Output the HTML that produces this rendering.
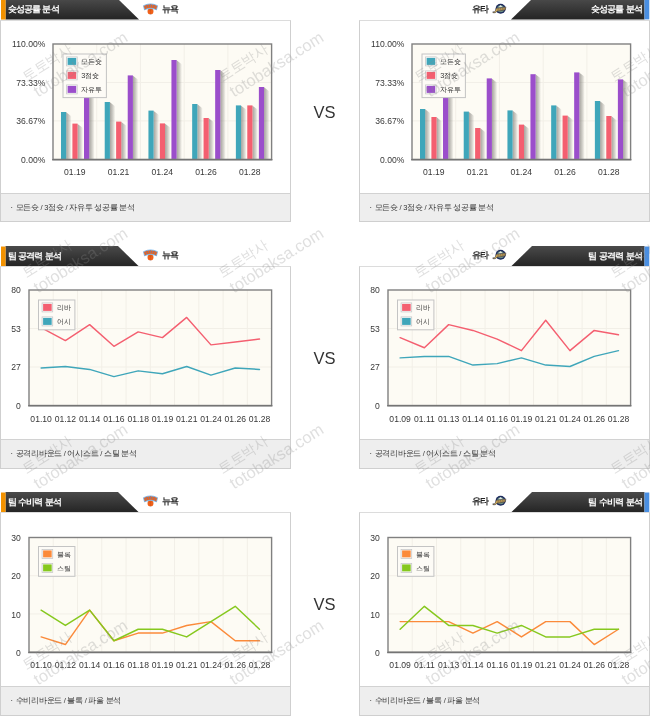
<!DOCTYPE html>
<html lang="ko"><head><meta charset="utf-8"><title>팀 분석</title>
<style>
html,body{margin:0;padding:0;background:#fff;}
body{width:650px;height:716px;overflow:hidden;position:relative;font-family:"Liberation Sans", sans-serif;color:#333;}
#page{position:absolute;left:0;top:0;width:650px;height:716px;overflow:hidden;background:#fff;filter:blur(0.4px);}
.abs{position:absolute;white-space:nowrap;}
.tab{position:absolute;height:20.6px;width:139px;}
.title{position:absolute;top:0;height:19px;line-height:20.3px;font-size:9px;letter-spacing:-0.95px;word-spacing:1.2px;font-weight:bold;color:#fff;white-space:nowrap;}
.team{position:absolute;height:18px;line-height:18px;font-size:9px;letter-spacing:-1px;font-weight:bold;color:#222;white-space:nowrap;}
.box{position:absolute;width:290px;border:1px solid #cfcfcf;border-top-color:#dcdcdc;background:#fff;box-sizing:border-box;}
.foot{position:absolute;left:0;right:0;bottom:0;height:28px;background:#eeeeee;border-top:1px solid #d2d2d2;box-sizing:border-box;}
.foot span{position:absolute;left:14.6px;top:0;line-height:27.4px;font-size:7.55px;letter-spacing:-0.27px;color:#333;white-space:nowrap;}
.foot i{position:absolute;left:9.6px;top:0;line-height:27.4px;font-size:7.55px;font-style:normal;color:#333;}
.vs{position:absolute;left:304px;width:41px;text-align:center;font-size:16.5px;line-height:20px;color:#333;}
svg{position:absolute;left:0;top:0;overflow:visible;}
svg text{font-family:"Liberation Sans", sans-serif;}
.ax{font-size:8.6px;fill:#383838;}
.lg{font-size:7.4px;fill:#333;}
#wm{position:absolute;left:0;top:0;overflow:hidden;}
</style></head><body><div id="page">
<div class="tab" style="left:0;top:-0.7px"><svg width="139" height="20.6" viewBox="0 0 139 20" preserveAspectRatio="none"><defs><linearGradient id="gL0" x1="0" y1="0" x2="0" y2="1"><stop offset="0" stop-color="#4a4a4a"/><stop offset="1" stop-color="#242424"/></linearGradient></defs><path d="M5.5 0 L118 0 L139 20 L5.5 20 Z" fill="url(#gL0)"/><rect x="1" y="0.5" width="4.6" height="19.5" fill="#f39200"/></svg><div class="title" style="left:7.5px">슛성공률 분석</div></div>
<svg class="logo" style="left:142.5px;top:3px" width="15" height="13" viewBox="0 0 15 13"><path d="M1.6 3 L13.4 3 L7.5 12.2 Z" fill="#c4e2f8"/><circle cx="7.5" cy="8.4" r="2.95" fill="#f0611a"/><path d="M5.6 6.3 Q7.5 8.4 9.4 6.3 M7.5 5.6 L7.5 11.2" stroke="#c24a10" stroke-width="0.35" fill="none"/><path d="M0.5 2.7 Q7.5 -0.9 14.5 2.7 L13.5 6.9 Q7.5 3.3 1.5 6.9 Z" fill="#e9621f" stroke="#6bb3ef" stroke-width="0.8" stroke-linejoin="round"/><path d="M2.9 2.3 L3.6 5.3 M5.3 1.5 L5.7 4.2 M7.5 1.2 L7.5 3.8 M9.7 1.5 L9.3 4.2 M12.1 2.3 L11.4 5.3" stroke="#4a86d2" stroke-width="0.5" fill="none"/></svg>
<div class="team" style="left:162px;top:0px">뉴욕</div>
<div class="box" style="left:0px;top:20px;height:201.5px;width:291px">
<svg style="left:-1px;top:-1px" width="291" height="201.5" viewBox="0 0 291 201.5">
<rect x="53" y="24" width="218.6" height="115.4" fill="#fdfbf4"/><line x1="96.72" y1="24" x2="96.72" y2="139.4" stroke="#f2efe7" stroke-width="1"/><line x1="140.44" y1="24" x2="140.44" y2="139.4" stroke="#f2efe7" stroke-width="1"/><line x1="184.16" y1="24" x2="184.16" y2="139.4" stroke="#f2efe7" stroke-width="1"/><line x1="227.88" y1="24" x2="227.88" y2="139.4" stroke="#f2efe7" stroke-width="1"/><line x1="53" y1="62.4667" x2="271.6" y2="62.4667" stroke="#f2efe7" stroke-width="1"/><line x1="53" y1="100.933" x2="271.6" y2="100.933" stroke="#f2efe7" stroke-width="1"/>
<defs><linearGradient id="shL" x1="0" y1="0" x2="1" y2="0"><stop offset="0" stop-color="#55534e" stop-opacity="0.52"/><stop offset="0.55" stop-color="#55534e" stop-opacity="0.26"/><stop offset="1" stop-color="#55534e" stop-opacity="0"/></linearGradient></defs>
<path d="M66.2 92.3 L71.6 96.4 L71.6 139.4 L66.2 139.4 Z" fill="url(#shL)"/>
<rect x="61" y="92" width="5.2" height="47.4" fill="#3fa6ba"/>
<path d="M77.6 103.9 L83 108 L83 139.4 L77.6 139.4 Z" fill="url(#shL)"/>
<rect x="72.4" y="103.6" width="5.2" height="35.8" fill="#f45f70"/>
<path d="M89.2 62.3 L94.6 66.4 L94.6 139.4 L89.2 139.4 Z" fill="url(#shL)"/>
<rect x="84" y="62" width="5.2" height="77.4" fill="#9b4ecb"/>
<path d="M109.92 82.3 L115.32 86.4 L115.32 139.4 L109.92 139.4 Z" fill="url(#shL)"/>
<rect x="104.72" y="82" width="5.2" height="57.4" fill="#3fa6ba"/>
<path d="M121.32 101.9 L126.72 106 L126.72 139.4 L121.32 139.4 Z" fill="url(#shL)"/>
<rect x="116.12" y="101.6" width="5.2" height="37.8" fill="#f45f70"/>
<path d="M132.92 55.7 L138.32 59.8 L138.32 139.4 L132.92 139.4 Z" fill="url(#shL)"/>
<rect x="127.72" y="55.4" width="5.2" height="84" fill="#9b4ecb"/>
<path d="M153.64 90.9 L159.04 95 L159.04 139.4 L153.64 139.4 Z" fill="url(#shL)"/>
<rect x="148.44" y="90.6" width="5.2" height="48.8" fill="#3fa6ba"/>
<path d="M165.04 103.7 L170.44 107.8 L170.44 139.4 L165.04 139.4 Z" fill="url(#shL)"/>
<rect x="159.84" y="103.4" width="5.2" height="36" fill="#f45f70"/>
<path d="M176.64 40.3 L182.04 44.4 L182.04 139.4 L176.64 139.4 Z" fill="url(#shL)"/>
<rect x="171.44" y="40" width="5.2" height="99.4" fill="#9b4ecb"/>
<path d="M197.36 84.3 L202.76 88.4 L202.76 139.4 L197.36 139.4 Z" fill="url(#shL)"/>
<rect x="192.16" y="84" width="5.2" height="55.4" fill="#3fa6ba"/>
<path d="M208.76 98.3 L214.16 102.4 L214.16 139.4 L208.76 139.4 Z" fill="url(#shL)"/>
<rect x="203.56" y="98" width="5.2" height="41.4" fill="#f45f70"/>
<path d="M220.36 50.3 L225.76 54.4 L225.76 139.4 L220.36 139.4 Z" fill="url(#shL)"/>
<rect x="215.16" y="50" width="5.2" height="89.4" fill="#9b4ecb"/>
<path d="M241.08 85.7 L246.48 89.8 L246.48 139.4 L241.08 139.4 Z" fill="url(#shL)"/>
<rect x="235.88" y="85.4" width="5.2" height="54" fill="#3fa6ba"/>
<path d="M252.48 85.7 L257.88 89.8 L257.88 139.4 L252.48 139.4 Z" fill="url(#shL)"/>
<rect x="247.28" y="85.4" width="5.2" height="54" fill="#f45f70"/>
<path d="M264.08 67.3 L269.48 71.4 L269.48 139.4 L264.08 139.4 Z" fill="url(#shL)"/>
<rect x="258.88" y="67" width="5.2" height="72.4" fill="#9b4ecb"/>
<rect x="53" y="24" width="218.6" height="115.4" fill="none" stroke="#808080" stroke-width="1.4"/><line x1="52.2" y1="139.7" x2="272.4" y2="139.7" stroke="#747474" stroke-width="1.6"/>
<rect x="63" y="34" width="43.4" height="43.6" fill="#fdfbf6" stroke="#c4c4c4" stroke-width="1"/><rect x="66.6" y="36.9" width="10.6" height="9" fill="#fff" stroke="#c8c8c8" stroke-width="0.8"/><rect x="67.6" y="37.9" width="8.6" height="7" fill="#3fa6ba"/><text class="lg" x="81.2" y="44.1">모든슛</text><rect x="66.6" y="50.9" width="10.6" height="9" fill="#fff" stroke="#c8c8c8" stroke-width="0.8"/><rect x="67.6" y="51.9" width="8.6" height="7" fill="#f45f70"/><text class="lg" x="81.2" y="58.1">3점슛</text><rect x="66.6" y="64.9" width="10.6" height="9" fill="#fff" stroke="#c8c8c8" stroke-width="0.8"/><rect x="67.6" y="65.9" width="8.6" height="7" fill="#9b4ecb"/><text class="lg" x="81.2" y="72.1">자유투</text>
<text class="ax" text-anchor="end" x="45.4" y="27.2">110.00%</text>
<text class="ax" text-anchor="end" x="45.4" y="65.6667">73.33%</text>
<text class="ax" text-anchor="end" x="45.4" y="104.133">36.67%</text>
<text class="ax" text-anchor="end" x="45.4" y="142.6">0.00%</text>
<text class="ax" text-anchor="middle" x="74.86" y="155.1">01.19</text>
<text class="ax" text-anchor="middle" x="118.58" y="155.1">01.21</text>
<text class="ax" text-anchor="middle" x="162.3" y="155.1">01.24</text>
<text class="ax" text-anchor="middle" x="206.02" y="155.1">01.26</text>
<text class="ax" text-anchor="middle" x="249.74" y="155.1">01.28</text>
</svg>
<div class="foot" style="height:27.9px"><i>·</i><span>모든슛 / 3점슛 / 자유투 성공률 분석</span></div>
</div>
<div class="tab" style="left:511px;top:-0.7px"><svg width="139" height="20.6" viewBox="0 0 139 20" preserveAspectRatio="none"><defs><linearGradient id="gR0" x1="0" y1="0" x2="0" y2="1"><stop offset="0" stop-color="#4a4a4a"/><stop offset="1" stop-color="#242424"/></linearGradient></defs><path d="M21 0 L133.5 0 L133.5 20 L0 20 Z" fill="url(#gR0)"/><rect x="133.5" y="0.5" width="4.8" height="19.3" fill="#4a8fe2"/></svg><div class="title" style="right:8px">슛성공률 분석</div></div>
<div class="team" style="left:472px;top:0px">유타</div>
<svg class="logo" style="left:492.3px;top:3px" width="15" height="12" viewBox="0 0 15 12"><circle cx="8.6" cy="5.8" r="5" fill="#1d2b5e"/><circle cx="8.6" cy="5.8" r="3.5" fill="#6f9486"/><path d="M8.6 1.9 L10.9 4.6 L6.3 4.6 Z" fill="#dfe8e2"/><path d="M0.9 8.7 Q2.3 9.3 3.3 7.9 L4.2 5.2 L13.9 3.9 L13.3 6.9 L5 8.3 Q3.4 10.5 0.9 9.7 Z" fill="#cfa94f" stroke="#2b2d45" stroke-width="0.55"/><path d="M6.3 5.3 L5.9 7.8 M8.3 5 L8 7.5 M10.3 4.7 L10 7.2 M12.2 4.5 L11.9 6.9" stroke="#3a3550" stroke-width="0.55" fill="none"/></svg>
<div class="box" style="left:359px;top:20px;height:201.5px;width:290.5px">
<svg style="left:-1px;top:-1px" width="291" height="201.5" viewBox="0 0 291 201.5">
<rect x="53" y="24" width="218.6" height="115.4" fill="#fdfbf4"/><line x1="96.72" y1="24" x2="96.72" y2="139.4" stroke="#f2efe7" stroke-width="1"/><line x1="140.44" y1="24" x2="140.44" y2="139.4" stroke="#f2efe7" stroke-width="1"/><line x1="184.16" y1="24" x2="184.16" y2="139.4" stroke="#f2efe7" stroke-width="1"/><line x1="227.88" y1="24" x2="227.88" y2="139.4" stroke="#f2efe7" stroke-width="1"/><line x1="53" y1="62.4667" x2="271.6" y2="62.4667" stroke="#f2efe7" stroke-width="1"/><line x1="53" y1="100.933" x2="271.6" y2="100.933" stroke="#f2efe7" stroke-width="1"/>
<defs><linearGradient id="shR" x1="0" y1="0" x2="1" y2="0"><stop offset="0" stop-color="#55534e" stop-opacity="0.52"/><stop offset="0.55" stop-color="#55534e" stop-opacity="0.26"/><stop offset="1" stop-color="#55534e" stop-opacity="0"/></linearGradient></defs>
<path d="M66.2 89.3 L71.6 93.4 L71.6 139.4 L66.2 139.4 Z" fill="url(#shR)"/>
<rect x="61" y="89" width="5.2" height="50.4" fill="#3fa6ba"/>
<path d="M77.6 97.3 L83 101.4 L83 139.4 L77.6 139.4 Z" fill="url(#shR)"/>
<rect x="72.4" y="97" width="5.2" height="42.4" fill="#f45f70"/>
<path d="M89.2 66.3 L94.6 70.4 L94.6 139.4 L89.2 139.4 Z" fill="url(#shR)"/>
<rect x="84" y="66" width="5.2" height="73.4" fill="#9b4ecb"/>
<path d="M109.92 91.9 L115.32 96 L115.32 139.4 L109.92 139.4 Z" fill="url(#shR)"/>
<rect x="104.72" y="91.6" width="5.2" height="47.8" fill="#3fa6ba"/>
<path d="M121.32 108.3 L126.72 112.4 L126.72 139.4 L121.32 139.4 Z" fill="url(#shR)"/>
<rect x="116.12" y="108" width="5.2" height="31.4" fill="#f45f70"/>
<path d="M132.92 58.7 L138.32 62.8 L138.32 139.4 L132.92 139.4 Z" fill="url(#shR)"/>
<rect x="127.72" y="58.4" width="5.2" height="81" fill="#9b4ecb"/>
<path d="M153.64 90.7 L159.04 94.8 L159.04 139.4 L153.64 139.4 Z" fill="url(#shR)"/>
<rect x="148.44" y="90.4" width="5.2" height="49" fill="#3fa6ba"/>
<path d="M165.04 104.9 L170.44 109 L170.44 139.4 L165.04 139.4 Z" fill="url(#shR)"/>
<rect x="159.84" y="104.6" width="5.2" height="34.8" fill="#f45f70"/>
<path d="M176.64 54.5 L182.04 58.6 L182.04 139.4 L176.64 139.4 Z" fill="url(#shR)"/>
<rect x="171.44" y="54.2" width="5.2" height="85.2" fill="#9b4ecb"/>
<path d="M197.36 85.7 L202.76 89.8 L202.76 139.4 L197.36 139.4 Z" fill="url(#shR)"/>
<rect x="192.16" y="85.4" width="5.2" height="54" fill="#3fa6ba"/>
<path d="M208.76 95.9 L214.16 100 L214.16 139.4 L208.76 139.4 Z" fill="url(#shR)"/>
<rect x="203.56" y="95.6" width="5.2" height="43.8" fill="#f45f70"/>
<path d="M220.36 52.7 L225.76 56.8 L225.76 139.4 L220.36 139.4 Z" fill="url(#shR)"/>
<rect x="215.16" y="52.4" width="5.2" height="87" fill="#9b4ecb"/>
<path d="M241.08 81.3 L246.48 85.4 L246.48 139.4 L241.08 139.4 Z" fill="url(#shR)"/>
<rect x="235.88" y="81" width="5.2" height="58.4" fill="#3fa6ba"/>
<path d="M252.48 96.3 L257.88 100.4 L257.88 139.4 L252.48 139.4 Z" fill="url(#shR)"/>
<rect x="247.28" y="96" width="5.2" height="43.4" fill="#f45f70"/>
<path d="M264.08 59.7 L269.48 63.8 L269.48 139.4 L264.08 139.4 Z" fill="url(#shR)"/>
<rect x="258.88" y="59.4" width="5.2" height="80" fill="#9b4ecb"/>
<rect x="53" y="24" width="218.6" height="115.4" fill="none" stroke="#808080" stroke-width="1.4"/><line x1="52.2" y1="139.7" x2="272.4" y2="139.7" stroke="#747474" stroke-width="1.6"/>
<rect x="63" y="34" width="43.4" height="43.6" fill="#fdfbf6" stroke="#c4c4c4" stroke-width="1"/><rect x="66.6" y="36.9" width="10.6" height="9" fill="#fff" stroke="#c8c8c8" stroke-width="0.8"/><rect x="67.6" y="37.9" width="8.6" height="7" fill="#3fa6ba"/><text class="lg" x="81.2" y="44.1">모든슛</text><rect x="66.6" y="50.9" width="10.6" height="9" fill="#fff" stroke="#c8c8c8" stroke-width="0.8"/><rect x="67.6" y="51.9" width="8.6" height="7" fill="#f45f70"/><text class="lg" x="81.2" y="58.1">3점슛</text><rect x="66.6" y="64.9" width="10.6" height="9" fill="#fff" stroke="#c8c8c8" stroke-width="0.8"/><rect x="67.6" y="65.9" width="8.6" height="7" fill="#9b4ecb"/><text class="lg" x="81.2" y="72.1">자유투</text>
<text class="ax" text-anchor="end" x="45.4" y="27.2">110.00%</text>
<text class="ax" text-anchor="end" x="45.4" y="65.6667">73.33%</text>
<text class="ax" text-anchor="end" x="45.4" y="104.133">36.67%</text>
<text class="ax" text-anchor="end" x="45.4" y="142.6">0.00%</text>
<text class="ax" text-anchor="middle" x="74.86" y="155.1">01.19</text>
<text class="ax" text-anchor="middle" x="118.58" y="155.1">01.21</text>
<text class="ax" text-anchor="middle" x="162.3" y="155.1">01.24</text>
<text class="ax" text-anchor="middle" x="206.02" y="155.1">01.26</text>
<text class="ax" text-anchor="middle" x="249.74" y="155.1">01.28</text>
</svg>
<div class="foot" style="height:27.9px"><i>·</i><span>모든슛 / 3점슛 / 자유투 성공률 분석</span></div>
</div>
<div class="vs" style="top:101.5px">VS</div>
<div class="tab" style="left:0;top:246px"><svg width="139" height="20.6" viewBox="0 0 139 20" preserveAspectRatio="none"><defs><linearGradient id="gL246" x1="0" y1="0" x2="0" y2="1"><stop offset="0" stop-color="#4a4a4a"/><stop offset="1" stop-color="#242424"/></linearGradient></defs><path d="M5.5 0 L118 0 L139 20 L5.5 20 Z" fill="url(#gL246)"/><rect x="1" y="0.5" width="4.6" height="19.5" fill="#f39200"/></svg><div class="title" style="left:7.5px">팀 공격력 분석</div></div>
<svg class="logo" style="left:142.5px;top:249px" width="15" height="13" viewBox="0 0 15 13"><path d="M1.6 3 L13.4 3 L7.5 12.2 Z" fill="#c4e2f8"/><circle cx="7.5" cy="8.4" r="2.95" fill="#f0611a"/><path d="M5.6 6.3 Q7.5 8.4 9.4 6.3 M7.5 5.6 L7.5 11.2" stroke="#c24a10" stroke-width="0.35" fill="none"/><path d="M0.5 2.7 Q7.5 -0.9 14.5 2.7 L13.5 6.9 Q7.5 3.3 1.5 6.9 Z" fill="#e9621f" stroke="#6bb3ef" stroke-width="0.8" stroke-linejoin="round"/><path d="M2.9 2.3 L3.6 5.3 M5.3 1.5 L5.7 4.2 M7.5 1.2 L7.5 3.8 M9.7 1.5 L9.3 4.2 M12.1 2.3 L11.4 5.3" stroke="#4a86d2" stroke-width="0.5" fill="none"/></svg>
<div class="team" style="left:162px;top:246px">뉴욕</div>
<div class="box" style="left:0px;top:266px;height:202.5px;width:291px">
<svg style="left:-1px;top:-1px" width="291" height="202.5" viewBox="0 0 291 202.5">
<rect x="29" y="24" width="242.6" height="115.5" fill="#fdfbf4"/><line x1="53.26" y1="24" x2="53.26" y2="139.5" stroke="#f2efe7" stroke-width="1"/><line x1="77.52" y1="24" x2="77.52" y2="139.5" stroke="#f2efe7" stroke-width="1"/><line x1="101.78" y1="24" x2="101.78" y2="139.5" stroke="#f2efe7" stroke-width="1"/><line x1="126.04" y1="24" x2="126.04" y2="139.5" stroke="#f2efe7" stroke-width="1"/><line x1="150.3" y1="24" x2="150.3" y2="139.5" stroke="#f2efe7" stroke-width="1"/><line x1="174.56" y1="24" x2="174.56" y2="139.5" stroke="#f2efe7" stroke-width="1"/><line x1="198.82" y1="24" x2="198.82" y2="139.5" stroke="#f2efe7" stroke-width="1"/><line x1="223.08" y1="24" x2="223.08" y2="139.5" stroke="#f2efe7" stroke-width="1"/><line x1="247.34" y1="24" x2="247.34" y2="139.5" stroke="#f2efe7" stroke-width="1"/><line x1="29" y1="62.5" x2="271.6" y2="62.5" stroke="#f2efe7" stroke-width="1"/><line x1="29" y1="101" x2="271.6" y2="101" stroke="#f2efe7" stroke-width="1"/>
<polyline points="41.13,61.54 65.39,74.53 89.65,58.65 113.91,80.31 138.17,65.87 162.43,71.64 186.69,51.43 210.95,78.86 235.21,75.97 259.47,73.09" fill="none" stroke="#f45f70" stroke-width="1.45" stroke-linejoin="round" stroke-linecap="round"/>
<polyline points="41.13,101.96 65.39,100.52 89.65,103.41 113.91,110.62 138.17,104.85 162.43,107.74 186.69,100.52 210.95,109.18 235.21,101.96 259.47,103.41" fill="none" stroke="#3fa6ba" stroke-width="1.45" stroke-linejoin="round" stroke-linecap="round"/>
<rect x="29" y="24" width="242.6" height="115.5" fill="none" stroke="#808080" stroke-width="1.4"/><line x1="28.2" y1="139.8" x2="272.4" y2="139.8" stroke="#747474" stroke-width="1.6"/>
<rect x="38.5" y="34" width="36.4" height="29.8" fill="#fdfbf6" stroke="#c4c4c4" stroke-width="1"/><rect x="42.1" y="36.9" width="10.6" height="9" fill="#fff" stroke="#c8c8c8" stroke-width="0.8"/><rect x="43.1" y="37.9" width="8.6" height="7" fill="#f45f70"/><text class="lg" x="56.7" y="44.1">리바</text><rect x="42.1" y="50.9" width="10.6" height="9" fill="#fff" stroke="#c8c8c8" stroke-width="0.8"/><rect x="43.1" y="51.9" width="8.6" height="7" fill="#3fa6ba"/><text class="lg" x="56.7" y="58.1">어시</text>
<text class="ax" text-anchor="end" x="20.8" y="27.4">80</text>
<text class="ax" text-anchor="end" x="20.8" y="65.9">53</text>
<text class="ax" text-anchor="end" x="20.8" y="104.4">27</text>
<text class="ax" text-anchor="end" x="20.8" y="142.9">0</text>
<text class="ax" text-anchor="middle" x="41.13" y="155.9">01.10</text>
<text class="ax" text-anchor="middle" x="65.39" y="155.9">01.12</text>
<text class="ax" text-anchor="middle" x="89.65" y="155.9">01.14</text>
<text class="ax" text-anchor="middle" x="113.91" y="155.9">01.16</text>
<text class="ax" text-anchor="middle" x="138.17" y="155.9">01.18</text>
<text class="ax" text-anchor="middle" x="162.43" y="155.9">01.19</text>
<text class="ax" text-anchor="middle" x="186.69" y="155.9">01.21</text>
<text class="ax" text-anchor="middle" x="210.95" y="155.9">01.24</text>
<text class="ax" text-anchor="middle" x="235.21" y="155.9">01.26</text>
<text class="ax" text-anchor="middle" x="259.47" y="155.9">01.28</text>
</svg>
<div class="foot" style="height:28.1px"><i>·</i><span>공격리바운드 / 어시스트 / 스틸 분석</span></div>
</div>
<div class="tab" style="left:511px;top:246px"><svg width="139" height="20.6" viewBox="0 0 139 20" preserveAspectRatio="none"><defs><linearGradient id="gR246" x1="0" y1="0" x2="0" y2="1"><stop offset="0" stop-color="#4a4a4a"/><stop offset="1" stop-color="#242424"/></linearGradient></defs><path d="M21 0 L133.5 0 L133.5 20 L0 20 Z" fill="url(#gR246)"/><rect x="133.5" y="0.5" width="4.8" height="19.3" fill="#4a8fe2"/></svg><div class="title" style="right:8px">팀 공격력 분석</div></div>
<div class="team" style="left:472px;top:246px">유타</div>
<svg class="logo" style="left:492.3px;top:249px" width="15" height="12" viewBox="0 0 15 12"><circle cx="8.6" cy="5.8" r="5" fill="#1d2b5e"/><circle cx="8.6" cy="5.8" r="3.5" fill="#6f9486"/><path d="M8.6 1.9 L10.9 4.6 L6.3 4.6 Z" fill="#dfe8e2"/><path d="M0.9 8.7 Q2.3 9.3 3.3 7.9 L4.2 5.2 L13.9 3.9 L13.3 6.9 L5 8.3 Q3.4 10.5 0.9 9.7 Z" fill="#cfa94f" stroke="#2b2d45" stroke-width="0.55"/><path d="M6.3 5.3 L5.9 7.8 M8.3 5 L8 7.5 M10.3 4.7 L10 7.2 M12.2 4.5 L11.9 6.9" stroke="#3a3550" stroke-width="0.55" fill="none"/></svg>
<div class="box" style="left:359px;top:266px;height:202.5px;width:290.5px">
<svg style="left:-1px;top:-1px" width="291" height="202.5" viewBox="0 0 291 202.5">
<rect x="29" y="24" width="242.6" height="115.5" fill="#fdfbf4"/><line x1="53.26" y1="24" x2="53.26" y2="139.5" stroke="#f2efe7" stroke-width="1"/><line x1="77.52" y1="24" x2="77.52" y2="139.5" stroke="#f2efe7" stroke-width="1"/><line x1="101.78" y1="24" x2="101.78" y2="139.5" stroke="#f2efe7" stroke-width="1"/><line x1="126.04" y1="24" x2="126.04" y2="139.5" stroke="#f2efe7" stroke-width="1"/><line x1="150.3" y1="24" x2="150.3" y2="139.5" stroke="#f2efe7" stroke-width="1"/><line x1="174.56" y1="24" x2="174.56" y2="139.5" stroke="#f2efe7" stroke-width="1"/><line x1="198.82" y1="24" x2="198.82" y2="139.5" stroke="#f2efe7" stroke-width="1"/><line x1="223.08" y1="24" x2="223.08" y2="139.5" stroke="#f2efe7" stroke-width="1"/><line x1="247.34" y1="24" x2="247.34" y2="139.5" stroke="#f2efe7" stroke-width="1"/><line x1="29" y1="62.5" x2="271.6" y2="62.5" stroke="#f2efe7" stroke-width="1"/><line x1="29" y1="101" x2="271.6" y2="101" stroke="#f2efe7" stroke-width="1"/>
<polyline points="41.13,71.64 65.39,81.75 89.65,58.65 113.91,64.42 138.17,73.09 162.43,84.64 186.69,54.32 210.95,84.64 235.21,64.42 259.47,68.76" fill="none" stroke="#f45f70" stroke-width="1.45" stroke-linejoin="round" stroke-linecap="round"/>
<polyline points="41.13,91.86 65.39,90.41 89.65,90.41 113.91,99.08 138.17,97.63 162.43,91.86 186.69,99.08 210.95,100.52 235.21,90.41 259.47,84.64" fill="none" stroke="#3fa6ba" stroke-width="1.45" stroke-linejoin="round" stroke-linecap="round"/>
<rect x="29" y="24" width="242.6" height="115.5" fill="none" stroke="#808080" stroke-width="1.4"/><line x1="28.2" y1="139.8" x2="272.4" y2="139.8" stroke="#747474" stroke-width="1.6"/>
<rect x="38.5" y="34" width="36.4" height="29.8" fill="#fdfbf6" stroke="#c4c4c4" stroke-width="1"/><rect x="42.1" y="36.9" width="10.6" height="9" fill="#fff" stroke="#c8c8c8" stroke-width="0.8"/><rect x="43.1" y="37.9" width="8.6" height="7" fill="#f45f70"/><text class="lg" x="56.7" y="44.1">리바</text><rect x="42.1" y="50.9" width="10.6" height="9" fill="#fff" stroke="#c8c8c8" stroke-width="0.8"/><rect x="43.1" y="51.9" width="8.6" height="7" fill="#3fa6ba"/><text class="lg" x="56.7" y="58.1">어시</text>
<text class="ax" text-anchor="end" x="20.8" y="27.4">80</text>
<text class="ax" text-anchor="end" x="20.8" y="65.9">53</text>
<text class="ax" text-anchor="end" x="20.8" y="104.4">27</text>
<text class="ax" text-anchor="end" x="20.8" y="142.9">0</text>
<text class="ax" text-anchor="middle" x="41.13" y="155.9">01.09</text>
<text class="ax" text-anchor="middle" x="65.39" y="155.9">01.11</text>
<text class="ax" text-anchor="middle" x="89.65" y="155.9">01.13</text>
<text class="ax" text-anchor="middle" x="113.91" y="155.9">01.14</text>
<text class="ax" text-anchor="middle" x="138.17" y="155.9">01.16</text>
<text class="ax" text-anchor="middle" x="162.43" y="155.9">01.19</text>
<text class="ax" text-anchor="middle" x="186.69" y="155.9">01.21</text>
<text class="ax" text-anchor="middle" x="210.95" y="155.9">01.24</text>
<text class="ax" text-anchor="middle" x="235.21" y="155.9">01.26</text>
<text class="ax" text-anchor="middle" x="259.47" y="155.9">01.28</text>
</svg>
<div class="foot" style="height:28.1px"><i>·</i><span>공격리바운드 / 어시스트 / 스틸 분석</span></div>
</div>
<div class="vs" style="top:347.5px">VS</div>
<div class="tab" style="left:0;top:492px"><svg width="139" height="20.6" viewBox="0 0 139 20" preserveAspectRatio="none"><defs><linearGradient id="gL492" x1="0" y1="0" x2="0" y2="1"><stop offset="0" stop-color="#4a4a4a"/><stop offset="1" stop-color="#242424"/></linearGradient></defs><path d="M5.5 0 L118 0 L139 20 L5.5 20 Z" fill="url(#gL492)"/><rect x="1" y="0.5" width="4.6" height="19.5" fill="#f39200"/></svg><div class="title" style="left:7.5px">팀 수비력 분석</div></div>
<svg class="logo" style="left:142.5px;top:495px" width="15" height="13" viewBox="0 0 15 13"><path d="M1.6 3 L13.4 3 L7.5 12.2 Z" fill="#c4e2f8"/><circle cx="7.5" cy="8.4" r="2.95" fill="#f0611a"/><path d="M5.6 6.3 Q7.5 8.4 9.4 6.3 M7.5 5.6 L7.5 11.2" stroke="#c24a10" stroke-width="0.35" fill="none"/><path d="M0.5 2.7 Q7.5 -0.9 14.5 2.7 L13.5 6.9 Q7.5 3.3 1.5 6.9 Z" fill="#e9621f" stroke="#6bb3ef" stroke-width="0.8" stroke-linejoin="round"/><path d="M2.9 2.3 L3.6 5.3 M5.3 1.5 L5.7 4.2 M7.5 1.2 L7.5 3.8 M9.7 1.5 L9.3 4.2 M12.1 2.3 L11.4 5.3" stroke="#4a86d2" stroke-width="0.5" fill="none"/></svg>
<div class="team" style="left:162px;top:492px">뉴욕</div>
<div class="box" style="left:0px;top:512px;height:203.5px;width:291px">
<svg style="left:-1px;top:-1px" width="291" height="203.5" viewBox="0 0 291 203.5">
<rect x="29" y="25.5" width="242.6" height="114.7" fill="#fdfbf4"/><line x1="53.26" y1="25.5" x2="53.26" y2="140.2" stroke="#f2efe7" stroke-width="1"/><line x1="77.52" y1="25.5" x2="77.52" y2="140.2" stroke="#f2efe7" stroke-width="1"/><line x1="101.78" y1="25.5" x2="101.78" y2="140.2" stroke="#f2efe7" stroke-width="1"/><line x1="126.04" y1="25.5" x2="126.04" y2="140.2" stroke="#f2efe7" stroke-width="1"/><line x1="150.3" y1="25.5" x2="150.3" y2="140.2" stroke="#f2efe7" stroke-width="1"/><line x1="174.56" y1="25.5" x2="174.56" y2="140.2" stroke="#f2efe7" stroke-width="1"/><line x1="198.82" y1="25.5" x2="198.82" y2="140.2" stroke="#f2efe7" stroke-width="1"/><line x1="223.08" y1="25.5" x2="223.08" y2="140.2" stroke="#f2efe7" stroke-width="1"/><line x1="247.34" y1="25.5" x2="247.34" y2="140.2" stroke="#f2efe7" stroke-width="1"/><line x1="29" y1="63.7333" x2="271.6" y2="63.7333" stroke="#f2efe7" stroke-width="1"/><line x1="29" y1="101.967" x2="271.6" y2="101.967" stroke="#f2efe7" stroke-width="1"/>
<polyline points="41.13,124.91 65.39,132.55 89.65,98.14 113.91,128.73 138.17,121.08 162.43,121.08 186.69,113.44 210.95,109.61 235.21,128.73 259.47,128.73" fill="none" stroke="#fb8a3a" stroke-width="1.45" stroke-linejoin="round" stroke-linecap="round"/>
<polyline points="41.13,98.14 65.39,113.44 89.65,98.14 113.91,128.73 138.17,117.26 162.43,117.26 186.69,124.91 210.95,109.61 235.21,94.32 259.47,117.26" fill="none" stroke="#86c81e" stroke-width="1.45" stroke-linejoin="round" stroke-linecap="round"/>
<rect x="29" y="25.5" width="242.6" height="114.7" fill="none" stroke="#808080" stroke-width="1.4"/><line x1="28.2" y1="140.5" x2="272.4" y2="140.5" stroke="#747474" stroke-width="1.6"/>
<rect x="38.5" y="34.5" width="36.4" height="29.8" fill="#fdfbf6" stroke="#c4c4c4" stroke-width="1"/><rect x="42.1" y="37.4" width="10.6" height="9" fill="#fff" stroke="#c8c8c8" stroke-width="0.8"/><rect x="43.1" y="38.4" width="8.6" height="7" fill="#fb8a3a"/><text class="lg" x="56.7" y="44.6">블록</text><rect x="42.1" y="51.4" width="10.6" height="9" fill="#fff" stroke="#c8c8c8" stroke-width="0.8"/><rect x="43.1" y="52.4" width="8.6" height="7" fill="#86c81e"/><text class="lg" x="56.7" y="58.6">스틸</text>
<text class="ax" text-anchor="end" x="20.8" y="28.8">30</text>
<text class="ax" text-anchor="end" x="20.8" y="67.3">20</text>
<text class="ax" text-anchor="end" x="20.8" y="105.8">10</text>
<text class="ax" text-anchor="end" x="20.8" y="144.3">0</text>
<text class="ax" text-anchor="middle" x="41.13" y="156.4">01.10</text>
<text class="ax" text-anchor="middle" x="65.39" y="156.4">01.12</text>
<text class="ax" text-anchor="middle" x="89.65" y="156.4">01.14</text>
<text class="ax" text-anchor="middle" x="113.91" y="156.4">01.16</text>
<text class="ax" text-anchor="middle" x="138.17" y="156.4">01.18</text>
<text class="ax" text-anchor="middle" x="162.43" y="156.4">01.19</text>
<text class="ax" text-anchor="middle" x="186.69" y="156.4">01.21</text>
<text class="ax" text-anchor="middle" x="210.95" y="156.4">01.24</text>
<text class="ax" text-anchor="middle" x="235.21" y="156.4">01.26</text>
<text class="ax" text-anchor="middle" x="259.47" y="156.4">01.28</text>
</svg>
<div class="foot" style="height:28.9px"><i>·</i><span>수비리바운드 / 블록 / 파울 분석</span></div>
</div>
<div class="tab" style="left:511px;top:492px"><svg width="139" height="20.6" viewBox="0 0 139 20" preserveAspectRatio="none"><defs><linearGradient id="gR492" x1="0" y1="0" x2="0" y2="1"><stop offset="0" stop-color="#4a4a4a"/><stop offset="1" stop-color="#242424"/></linearGradient></defs><path d="M21 0 L133.5 0 L133.5 20 L0 20 Z" fill="url(#gR492)"/><rect x="133.5" y="0.5" width="4.8" height="19.3" fill="#4a8fe2"/></svg><div class="title" style="right:8px">팀 수비력 분석</div></div>
<div class="team" style="left:472px;top:492px">유타</div>
<svg class="logo" style="left:492.3px;top:495px" width="15" height="12" viewBox="0 0 15 12"><circle cx="8.6" cy="5.8" r="5" fill="#1d2b5e"/><circle cx="8.6" cy="5.8" r="3.5" fill="#6f9486"/><path d="M8.6 1.9 L10.9 4.6 L6.3 4.6 Z" fill="#dfe8e2"/><path d="M0.9 8.7 Q2.3 9.3 3.3 7.9 L4.2 5.2 L13.9 3.9 L13.3 6.9 L5 8.3 Q3.4 10.5 0.9 9.7 Z" fill="#cfa94f" stroke="#2b2d45" stroke-width="0.55"/><path d="M6.3 5.3 L5.9 7.8 M8.3 5 L8 7.5 M10.3 4.7 L10 7.2 M12.2 4.5 L11.9 6.9" stroke="#3a3550" stroke-width="0.55" fill="none"/></svg>
<div class="box" style="left:359px;top:512px;height:203.5px;width:290.5px">
<svg style="left:-1px;top:-1px" width="291" height="203.5" viewBox="0 0 291 203.5">
<rect x="29" y="25.5" width="242.6" height="114.7" fill="#fdfbf4"/><line x1="53.26" y1="25.5" x2="53.26" y2="140.2" stroke="#f2efe7" stroke-width="1"/><line x1="77.52" y1="25.5" x2="77.52" y2="140.2" stroke="#f2efe7" stroke-width="1"/><line x1="101.78" y1="25.5" x2="101.78" y2="140.2" stroke="#f2efe7" stroke-width="1"/><line x1="126.04" y1="25.5" x2="126.04" y2="140.2" stroke="#f2efe7" stroke-width="1"/><line x1="150.3" y1="25.5" x2="150.3" y2="140.2" stroke="#f2efe7" stroke-width="1"/><line x1="174.56" y1="25.5" x2="174.56" y2="140.2" stroke="#f2efe7" stroke-width="1"/><line x1="198.82" y1="25.5" x2="198.82" y2="140.2" stroke="#f2efe7" stroke-width="1"/><line x1="223.08" y1="25.5" x2="223.08" y2="140.2" stroke="#f2efe7" stroke-width="1"/><line x1="247.34" y1="25.5" x2="247.34" y2="140.2" stroke="#f2efe7" stroke-width="1"/><line x1="29" y1="63.7333" x2="271.6" y2="63.7333" stroke="#f2efe7" stroke-width="1"/><line x1="29" y1="101.967" x2="271.6" y2="101.967" stroke="#f2efe7" stroke-width="1"/>
<polyline points="41.13,109.61 65.39,109.61 89.65,109.61 113.91,121.08 138.17,109.61 162.43,124.91 186.69,109.61 210.95,109.61 235.21,132.55 259.47,117.26" fill="none" stroke="#fb8a3a" stroke-width="1.45" stroke-linejoin="round" stroke-linecap="round"/>
<polyline points="41.13,117.26 65.39,94.32 89.65,113.44 113.91,113.44 138.17,121.08 162.43,113.44 186.69,124.91 210.95,124.91 235.21,117.26 259.47,117.26" fill="none" stroke="#86c81e" stroke-width="1.45" stroke-linejoin="round" stroke-linecap="round"/>
<rect x="29" y="25.5" width="242.6" height="114.7" fill="none" stroke="#808080" stroke-width="1.4"/><line x1="28.2" y1="140.5" x2="272.4" y2="140.5" stroke="#747474" stroke-width="1.6"/>
<rect x="38.5" y="34.5" width="36.4" height="29.8" fill="#fdfbf6" stroke="#c4c4c4" stroke-width="1"/><rect x="42.1" y="37.4" width="10.6" height="9" fill="#fff" stroke="#c8c8c8" stroke-width="0.8"/><rect x="43.1" y="38.4" width="8.6" height="7" fill="#fb8a3a"/><text class="lg" x="56.7" y="44.6">블록</text><rect x="42.1" y="51.4" width="10.6" height="9" fill="#fff" stroke="#c8c8c8" stroke-width="0.8"/><rect x="43.1" y="52.4" width="8.6" height="7" fill="#86c81e"/><text class="lg" x="56.7" y="58.6">스틸</text>
<text class="ax" text-anchor="end" x="20.8" y="28.8">30</text>
<text class="ax" text-anchor="end" x="20.8" y="67.3">20</text>
<text class="ax" text-anchor="end" x="20.8" y="105.8">10</text>
<text class="ax" text-anchor="end" x="20.8" y="144.3">0</text>
<text class="ax" text-anchor="middle" x="41.13" y="156.4">01.09</text>
<text class="ax" text-anchor="middle" x="65.39" y="156.4">01.11</text>
<text class="ax" text-anchor="middle" x="89.65" y="156.4">01.13</text>
<text class="ax" text-anchor="middle" x="113.91" y="156.4">01.14</text>
<text class="ax" text-anchor="middle" x="138.17" y="156.4">01.16</text>
<text class="ax" text-anchor="middle" x="162.43" y="156.4">01.19</text>
<text class="ax" text-anchor="middle" x="186.69" y="156.4">01.21</text>
<text class="ax" text-anchor="middle" x="210.95" y="156.4">01.24</text>
<text class="ax" text-anchor="middle" x="235.21" y="156.4">01.26</text>
<text class="ax" text-anchor="middle" x="259.47" y="156.4">01.28</text>
</svg>
<div class="foot" style="height:28.9px"><i>·</i><span>수비리바운드 / 블록 / 파울 분석</span></div>
</div>
<div class="vs" style="top:593.5px">VS</div>
<svg id="wm" width="650" height="716" viewBox="0 0 650 716" style="pointer-events:none">
<g transform="translate(38.1,97.6) rotate(-32.2)" fill="#8c8c8c" fill-opacity="0.28"><text x="-2" y="-20" font-size="14.3">토토박사</text><text x="0" y="0" font-size="16.5">totobaksa.com</text></g>
<g transform="translate(234.1,97.6) rotate(-32.2)" fill="#8c8c8c" fill-opacity="0.28"><text x="-2" y="-20" font-size="14.3">토토박사</text><text x="0" y="0" font-size="16.5">totobaksa.com</text></g>
<g transform="translate(430.1,97.6) rotate(-32.2)" fill="#8c8c8c" fill-opacity="0.28"><text x="-2" y="-20" font-size="14.3">토토박사</text><text x="0" y="0" font-size="16.5">totobaksa.com</text></g>
<g transform="translate(626.1,97.6) rotate(-32.2)" fill="#8c8c8c" fill-opacity="0.28"><text x="-2" y="-20" font-size="14.3">토토박사</text><text x="0" y="0" font-size="16.5">totobaksa.com</text></g>
<g transform="translate(38.1,293.6) rotate(-32.2)" fill="#8c8c8c" fill-opacity="0.28"><text x="-2" y="-20" font-size="14.3">토토박사</text><text x="0" y="0" font-size="16.5">totobaksa.com</text></g>
<g transform="translate(234.1,293.6) rotate(-32.2)" fill="#8c8c8c" fill-opacity="0.28"><text x="-2" y="-20" font-size="14.3">토토박사</text><text x="0" y="0" font-size="16.5">totobaksa.com</text></g>
<g transform="translate(430.1,293.6) rotate(-32.2)" fill="#8c8c8c" fill-opacity="0.28"><text x="-2" y="-20" font-size="14.3">토토박사</text><text x="0" y="0" font-size="16.5">totobaksa.com</text></g>
<g transform="translate(626.1,293.6) rotate(-32.2)" fill="#8c8c8c" fill-opacity="0.28"><text x="-2" y="-20" font-size="14.3">토토박사</text><text x="0" y="0" font-size="16.5">totobaksa.com</text></g>
<g transform="translate(38.1,489.6) rotate(-32.2)" fill="#8c8c8c" fill-opacity="0.28"><text x="-2" y="-20" font-size="14.3">토토박사</text><text x="0" y="0" font-size="16.5">totobaksa.com</text></g>
<g transform="translate(234.1,489.6) rotate(-32.2)" fill="#8c8c8c" fill-opacity="0.28"><text x="-2" y="-20" font-size="14.3">토토박사</text><text x="0" y="0" font-size="16.5">totobaksa.com</text></g>
<g transform="translate(430.1,489.6) rotate(-32.2)" fill="#8c8c8c" fill-opacity="0.28"><text x="-2" y="-20" font-size="14.3">토토박사</text><text x="0" y="0" font-size="16.5">totobaksa.com</text></g>
<g transform="translate(626.1,489.6) rotate(-32.2)" fill="#8c8c8c" fill-opacity="0.28"><text x="-2" y="-20" font-size="14.3">토토박사</text><text x="0" y="0" font-size="16.5">totobaksa.com</text></g>
<g transform="translate(38.1,685.6) rotate(-32.2)" fill="#8c8c8c" fill-opacity="0.28"><text x="-2" y="-20" font-size="14.3">토토박사</text><text x="0" y="0" font-size="16.5">totobaksa.com</text></g>
<g transform="translate(234.1,685.6) rotate(-32.2)" fill="#8c8c8c" fill-opacity="0.28"><text x="-2" y="-20" font-size="14.3">토토박사</text><text x="0" y="0" font-size="16.5">totobaksa.com</text></g>
<g transform="translate(430.1,685.6) rotate(-32.2)" fill="#8c8c8c" fill-opacity="0.28"><text x="-2" y="-20" font-size="14.3">토토박사</text><text x="0" y="0" font-size="16.5">totobaksa.com</text></g>
<g transform="translate(626.1,685.6) rotate(-32.2)" fill="#8c8c8c" fill-opacity="0.28"><text x="-2" y="-20" font-size="14.3">토토박사</text><text x="0" y="0" font-size="16.5">totobaksa.com</text></g>
</svg>
</div></body></html>
